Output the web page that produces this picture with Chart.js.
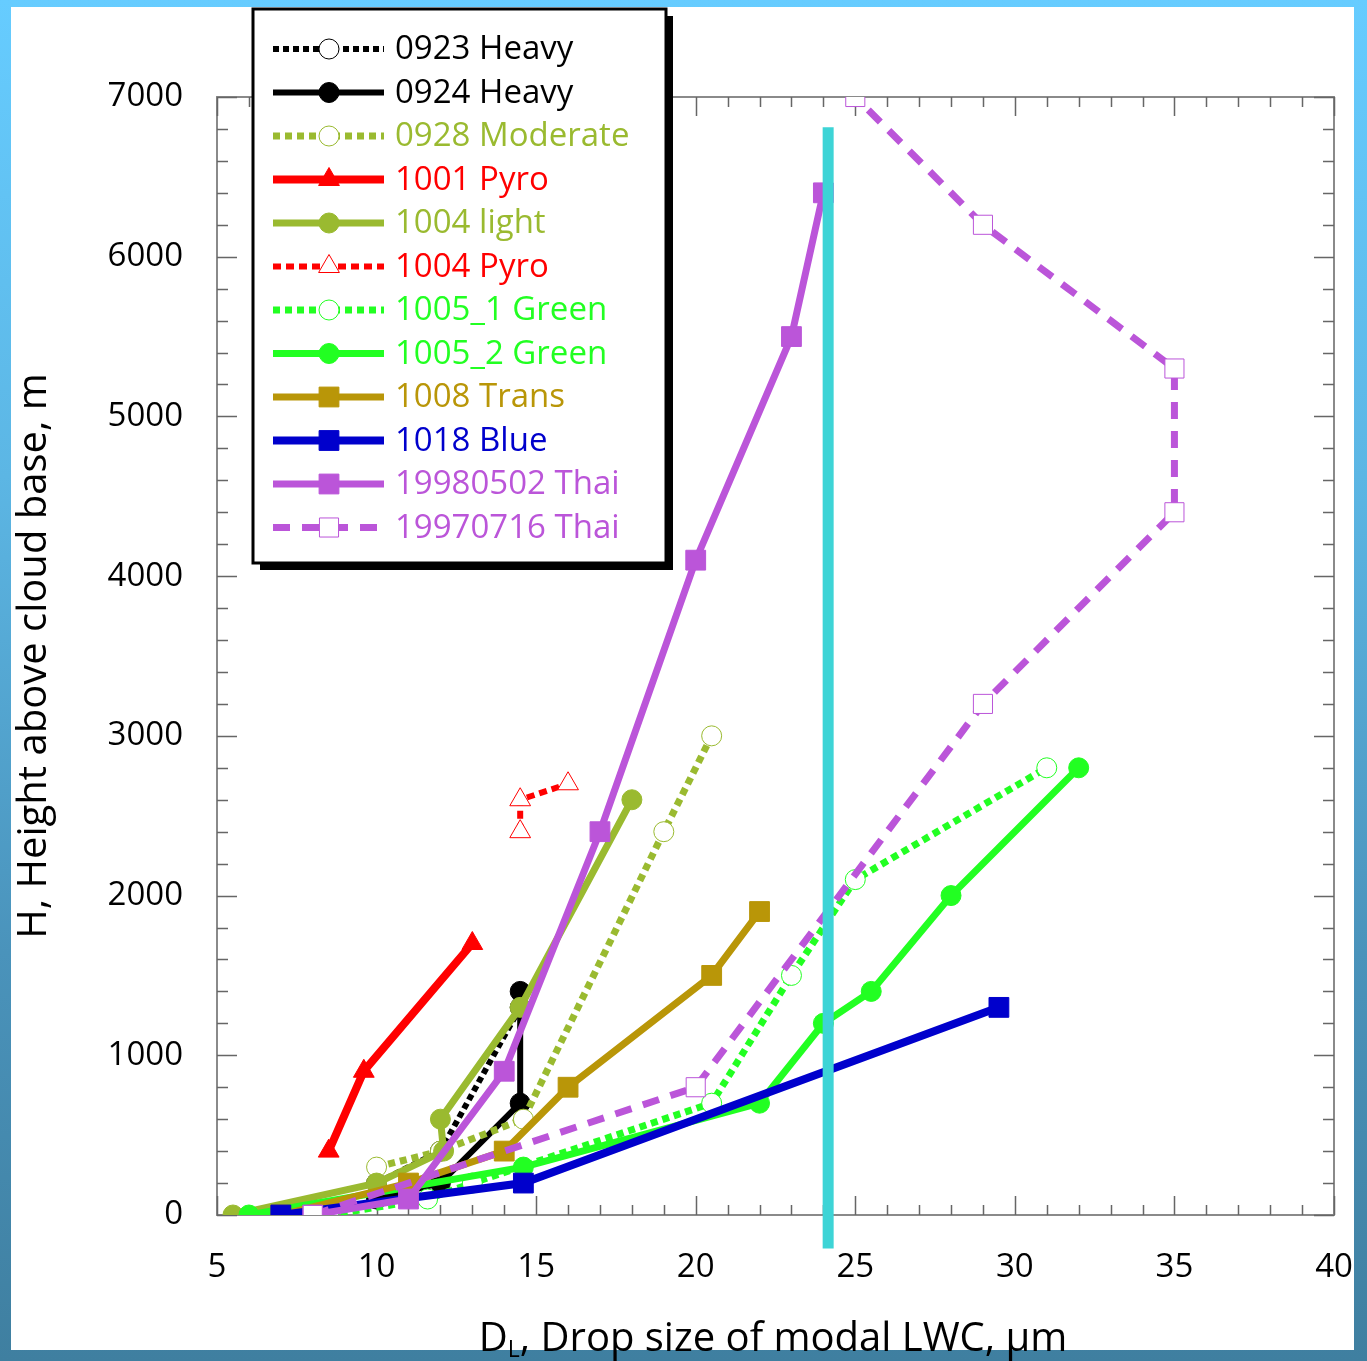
<!DOCTYPE html>
<html>
<head>
<meta charset="utf-8">
<title>Drop size vs height above cloud base</title>
<script src="https://cdn.jsdelivr.net/npm/chart.js@4.4.1/dist/chart.umd.min.js"></script>
<style>
  html, body { margin: 0; padding: 0; }
  body {
    width: 1367px; height: 1361px; position: relative; overflow: hidden;
    background: linear-gradient(to bottom, #66ccff 0%, #5cb6e4 35%, #4a93bb 70%, #3f7fa0 100%);
  }
  #panel { position: absolute; left: 11px; top: 7px; width: 1343px; height: 1343px; background: #fff; }
  #chart { position: absolute; left: 0; top: 0; }
</style>
</head>
<body>
<div id="panel"><canvas id="chart" width="1343" height="1354"></canvas></div>
<script>
// drop size D_L (um) and height above cloud base H (m) per flight
const heavy0923D = [10, 12, 14.5];
const heavy0923H = [200, 400, 1300];
const heavy0924D = [10, 12, 14.5, 14.5];
const heavy0924H = [100, 200, 700, 1400];
const moderate0928D = [10, 12, 14.6, 19, 20.5];
const moderate0928H = [300, 400, 600, 2400, 3000];
const pyro1001D = [8.5, 9.6, 13];
const pyro1001H = [400, 900, 1700];
const light1004D = [5.5, 10, 12.1, 12, 14.5, 18];
const light1004H = [0, 200, 400, 600, 1300, 2600];
const pyro1004D = [14.5, 14.5, 16];
const pyro1004H = [2400, 2600, 2700];
const green1005aD = [8.5, 11.6, 13, 20.5, 23, 25, 31];
const green1005aH = [0, 100, 200, 700, 1500, 2100, 2800];
const green1005bD = [6, 14.6, 22, 24, 25.5, 28, 32];
const green1005bH = [0, 300, 700, 1200, 1400, 2000, 2800];
const trans1008D = [7, 11, 14, 16, 20.5, 22];
const trans1008H = [0, 200, 400, 800, 1500, 1900];
const blue1018D = [7, 14.6, 29.5];
const blue1018H = [0, 200, 1300];
const thai980502D = [8, 11, 14, 17, 20, 23, 24];
const thai980502H = [0, 100, 900, 2400, 4100, 5500, 6400];
const thai970716D = [8, 20, 29, 35, 35, 29, 25];
const thai970716H = [0, 800, 3200, 4400, 5300, 6200, 7000];

// vertical reference line
const refLineD = [24.15, 24.15];
const refLineH = [-210, 6810];

const FONT = '"Open Sans", "Noto Sans", sans-serif';

function pts(xs, ys) {
    return xs.map((x, i) => ({ x: x, y: ys[i] }));
}

function makeSet(label, xs, ys, color, opts) {
    const open = !!opts.open;
    return {
        label: label,
        data: pts(xs, ys),
        borderColor: color,
        backgroundColor: color,
        borderWidth: opts.width || 7,
        borderDash: opts.dash || [],
        pointStyle: opts.marker,
        pointRadius: opts.r,
        pointHoverRadius: opts.r,
        pointBackgroundColor: open ? '#ffffff' : color,
        pointBorderColor: color,
        pointBorderWidth: 1,
        textColor: opts.text || color,
        isOpen: open,
        showLine: true,
        fill: false,
        tension: 0
    };
}

const OLIVE = '#9aba30';
const RED = '#ff0000';
const GREEN = '#22ff22';
const GOLD = '#b99608';
const BLUE = '#0000cc';
const PURPLE = '#bb55d9';
const DOTS = [7, 5];

const seriesSets = [
    makeSet('0923 Heavy', heavy0923D, heavy0923H, '#000000', { dash: [6, 4], width: 6, marker: 'circle', r: 10, open: true }),
    makeSet('0924 Heavy', heavy0924D, heavy0924H, '#000000', { width: 6, marker: 'circle', r: 10 }),
    makeSet('0928 Moderate', moderate0928D, moderate0928H, OLIVE, { dash: DOTS, width: 7, marker: 'circle', r: 10, open: true }),
    makeSet('1001 Pyro', pyro1001D, pyro1001H, RED, { width: 8, marker: 'triangle', r: 12 }),
    makeSet('1004 light', light1004D, light1004H, OLIVE, { width: 7, marker: 'circle', r: 10 }),
    makeSet('1004 Pyro', pyro1004D, pyro1004H, RED, { dash: [8, 5], width: 6, marker: 'triangle', r: 12, open: true }),
    makeSet('1005_1 Green', green1005aD, green1005aH, GREEN, { dash: DOTS, width: 7, marker: 'circle', r: 10, open: true }),
    makeSet('1005_2 Green', green1005bD, green1005bH, GREEN, { width: 7, marker: 'circle', r: 10 }),
    makeSet('1008 Trans', trans1008D, trans1008H, GOLD, { width: 7, marker: 'rect', r: 14 }),
    makeSet('1018 Blue', blue1018D, blue1018H, BLUE, { width: 8, marker: 'rect', r: 14 }),
    makeSet('19980502 Thai', thai980502D, thai980502H, PURPLE, { width: 7, marker: 'rect', r: 14 }),
    makeSet('19970716 Thai', thai970716D, thai970716H, PURPLE, { dash: [17, 12], width: 7, marker: 'rect', r: 13.5, open: true })
];

// later series drawn on top
seriesSets.forEach((ds, i) => { ds.order = -i; });

const refSet = {
    label: 'ref',
    data: pts(refLineD, refLineH),
    borderColor: '#3dd4d6',
    backgroundColor: '#3dd4d6',
    borderWidth: 11,
    borderCapStyle: 'butt',
    pointRadius: 0,
    showLine: true,
    clip: false,
    order: -100,
    isRef: true
};

function drawMarker(ctx, style, x, y, r, fill, stroke) {
    ctx.save();
    ctx.setLineDash([]);
    ctx.beginPath();
    if (style === 'circle') {
        ctx.arc(x, y, r, 0, Math.PI * 2);
    } else if (style === 'rect') {
        const s = r * Math.SQRT1_2;
        ctx.rect(x - s, y - s, 2 * s, 2 * s);
    } else if (style === 'triangle') {
        for (let k = 0; k < 3; k++) {
            const a = k * 2 * Math.PI / 3;
            const px = x + Math.sin(a) * r, py = y - Math.cos(a) * r;
            if (k === 0) ctx.moveTo(px, py); else ctx.lineTo(px, py);
        }
        ctx.closePath();
    }
    ctx.fillStyle = fill;
    ctx.fill();
    ctx.lineWidth = 1;
    ctx.strokeStyle = stroke;
    ctx.stroke();
    ctx.restore();
}

// plot box with inward ticks on all four sides, x title and legend
const frameBox = {
    id: 'frameBox',
    beforeDatasetsDraw(chart) {
        const { ctx, chartArea: a, scales } = chart;
        ctx.save();
        ctx.strokeStyle = '#8a8a8a';
        ctx.lineWidth = 2;
        ctx.strokeRect(a.left, a.top, a.right - a.left, a.bottom - a.top);
        ctx.strokeStyle = '#666666';
        ctx.lineWidth = 1.5;
        ctx.beginPath();
        for (let v = 5; v <= 40; v += 1) {
            const px = Math.round(scales.x.getPixelForValue(v)) + 0.5;
            const len = v % 5 === 0 ? 19 : 10;
            ctx.moveTo(px, a.bottom); ctx.lineTo(px, a.bottom - len);
            ctx.moveTo(px, a.top); ctx.lineTo(px, a.top + len);
        }
        for (let v = 0; v <= 7000; v += 200) {
            const py = Math.round(scales.y.getPixelForValue(v)) + 0.5;
            const len = v % 1000 === 0 ? 20 : 11;
            ctx.moveTo(a.left, py); ctx.lineTo(a.left + len, py);
            ctx.moveTo(a.right, py); ctx.lineTo(a.right - len, py);
        }
        ctx.stroke();
        ctx.restore();
    },
    afterDraw(chart) {
        const ctx = chart.ctx;

        // x axis title with subscript L
        ctx.save();
        ctx.fillStyle = '#000';
        ctx.textBaseline = 'alphabetic';
        ctx.textAlign = 'left';
        const big = '40px ' + FONT, small = '23px ' + FONT;
        const rest = ', Drop size of modal LWC, \u03bcm';
        ctx.font = big;
        const wD = ctx.measureText('D').width;
        const wR = ctx.measureText(rest).width;
        ctx.font = small;
        const wL = ctx.measureText('L').width;
        const total = wD + wL + wR;
        const cx = 762;
        const baseline = 1344;
        let x = cx - total / 2;
        ctx.font = big; ctx.fillText('D', x, baseline); x += wD;
        ctx.font = small; ctx.fillText('L', x, baseline + 6); x += wL;
        ctx.font = big; ctx.fillText(rest, x, baseline);
        ctx.restore();

        // legend box with drop shadow
        const bx = 242, by = 2, bw = 413, bh = 554;
        ctx.save();
        ctx.fillStyle = '#000';
        ctx.fillRect(bx + 7, by + 7, bw, bh);
        ctx.fillStyle = '#fff';
        ctx.fillRect(bx, by, bw, bh);
        ctx.lineWidth = 3;
        ctx.strokeStyle = '#000';
        ctx.strokeRect(bx, by, bw, bh);

        const rowY0 = 42, rowH = 43.5;
        const lx1 = 262, lx2 = 373, mx = 318, tx = 384;
        ctx.font = '33px ' + FONT;
        ctx.textBaseline = 'middle';
        ctx.textAlign = 'left';
        seriesSets.forEach((ds, i) => {
            const y = rowY0 + i * rowH;
            ctx.save();
            ctx.strokeStyle = ds.borderColor;
            ctx.lineWidth = ds.borderWidth;
            ctx.setLineDash(ds.borderDash);
            ctx.beginPath();
            ctx.moveTo(lx1, y); ctx.lineTo(lx2, y);
            ctx.stroke();
            ctx.restore();
            drawMarker(ctx, ds.pointStyle, mx, y, ds.pointRadius, ds.pointBackgroundColor, ds.pointBorderColor);
            ctx.fillStyle = ds.textColor;
            ctx.fillText(ds.label, tx, y + 1);
        });
        ctx.restore();
    }
};

new Chart(document.getElementById('chart'), {
    type: 'scatter',
    data: { datasets: seriesSets.concat([refSet]) },
    options: {
        responsive: false,
        devicePixelRatio: 1,
        animation: false,
        events: [],
        layout: { padding: { left: 0, right: 20, top: 90, bottom: 0 } },
        plugins: {
            legend: { display: false },
            tooltip: { enabled: false }
        },
        scales: {
            x: {
                type: 'linear',
                min: 5,
                max: 40,
                grid: { display: false, drawTicks: false },
                border: { display: false },
                ticks: {
                    stepSize: 5,
                    maxRotation: 0,
                    autoSkip: false,
                    padding: 33,
                    color: '#000',
                    font: { family: FONT, size: 33 },
                    callback: v => String(v)
                },
                afterFit: s => { s.height = 146; s.paddingLeft = 0; s.paddingRight = 0; }
            },
            y: {
                type: 'linear',
                min: 0,
                max: 7000,
                grid: { display: false, drawTicks: false },
                border: { display: false },
                ticks: {
                    stepSize: 1000,
                    autoSkip: false,
                    padding: 34,
                    color: '#000',
                    font: { family: FONT, size: 33 },
                    callback: v => String(v)
                },
                title: {
                    display: true,
                    text: 'H, Height above cloud base, m',
                    color: '#000',
                    font: { family: FONT, size: 40 },
                    padding: { top: 0, bottom: 0 }
                },
                afterFit: s => { s.width = 206; s.paddingTop = 0; s.paddingBottom = 0; }
            }
        }
    },
    plugins: [frameBox]
});
</script>
</body>
</html>
